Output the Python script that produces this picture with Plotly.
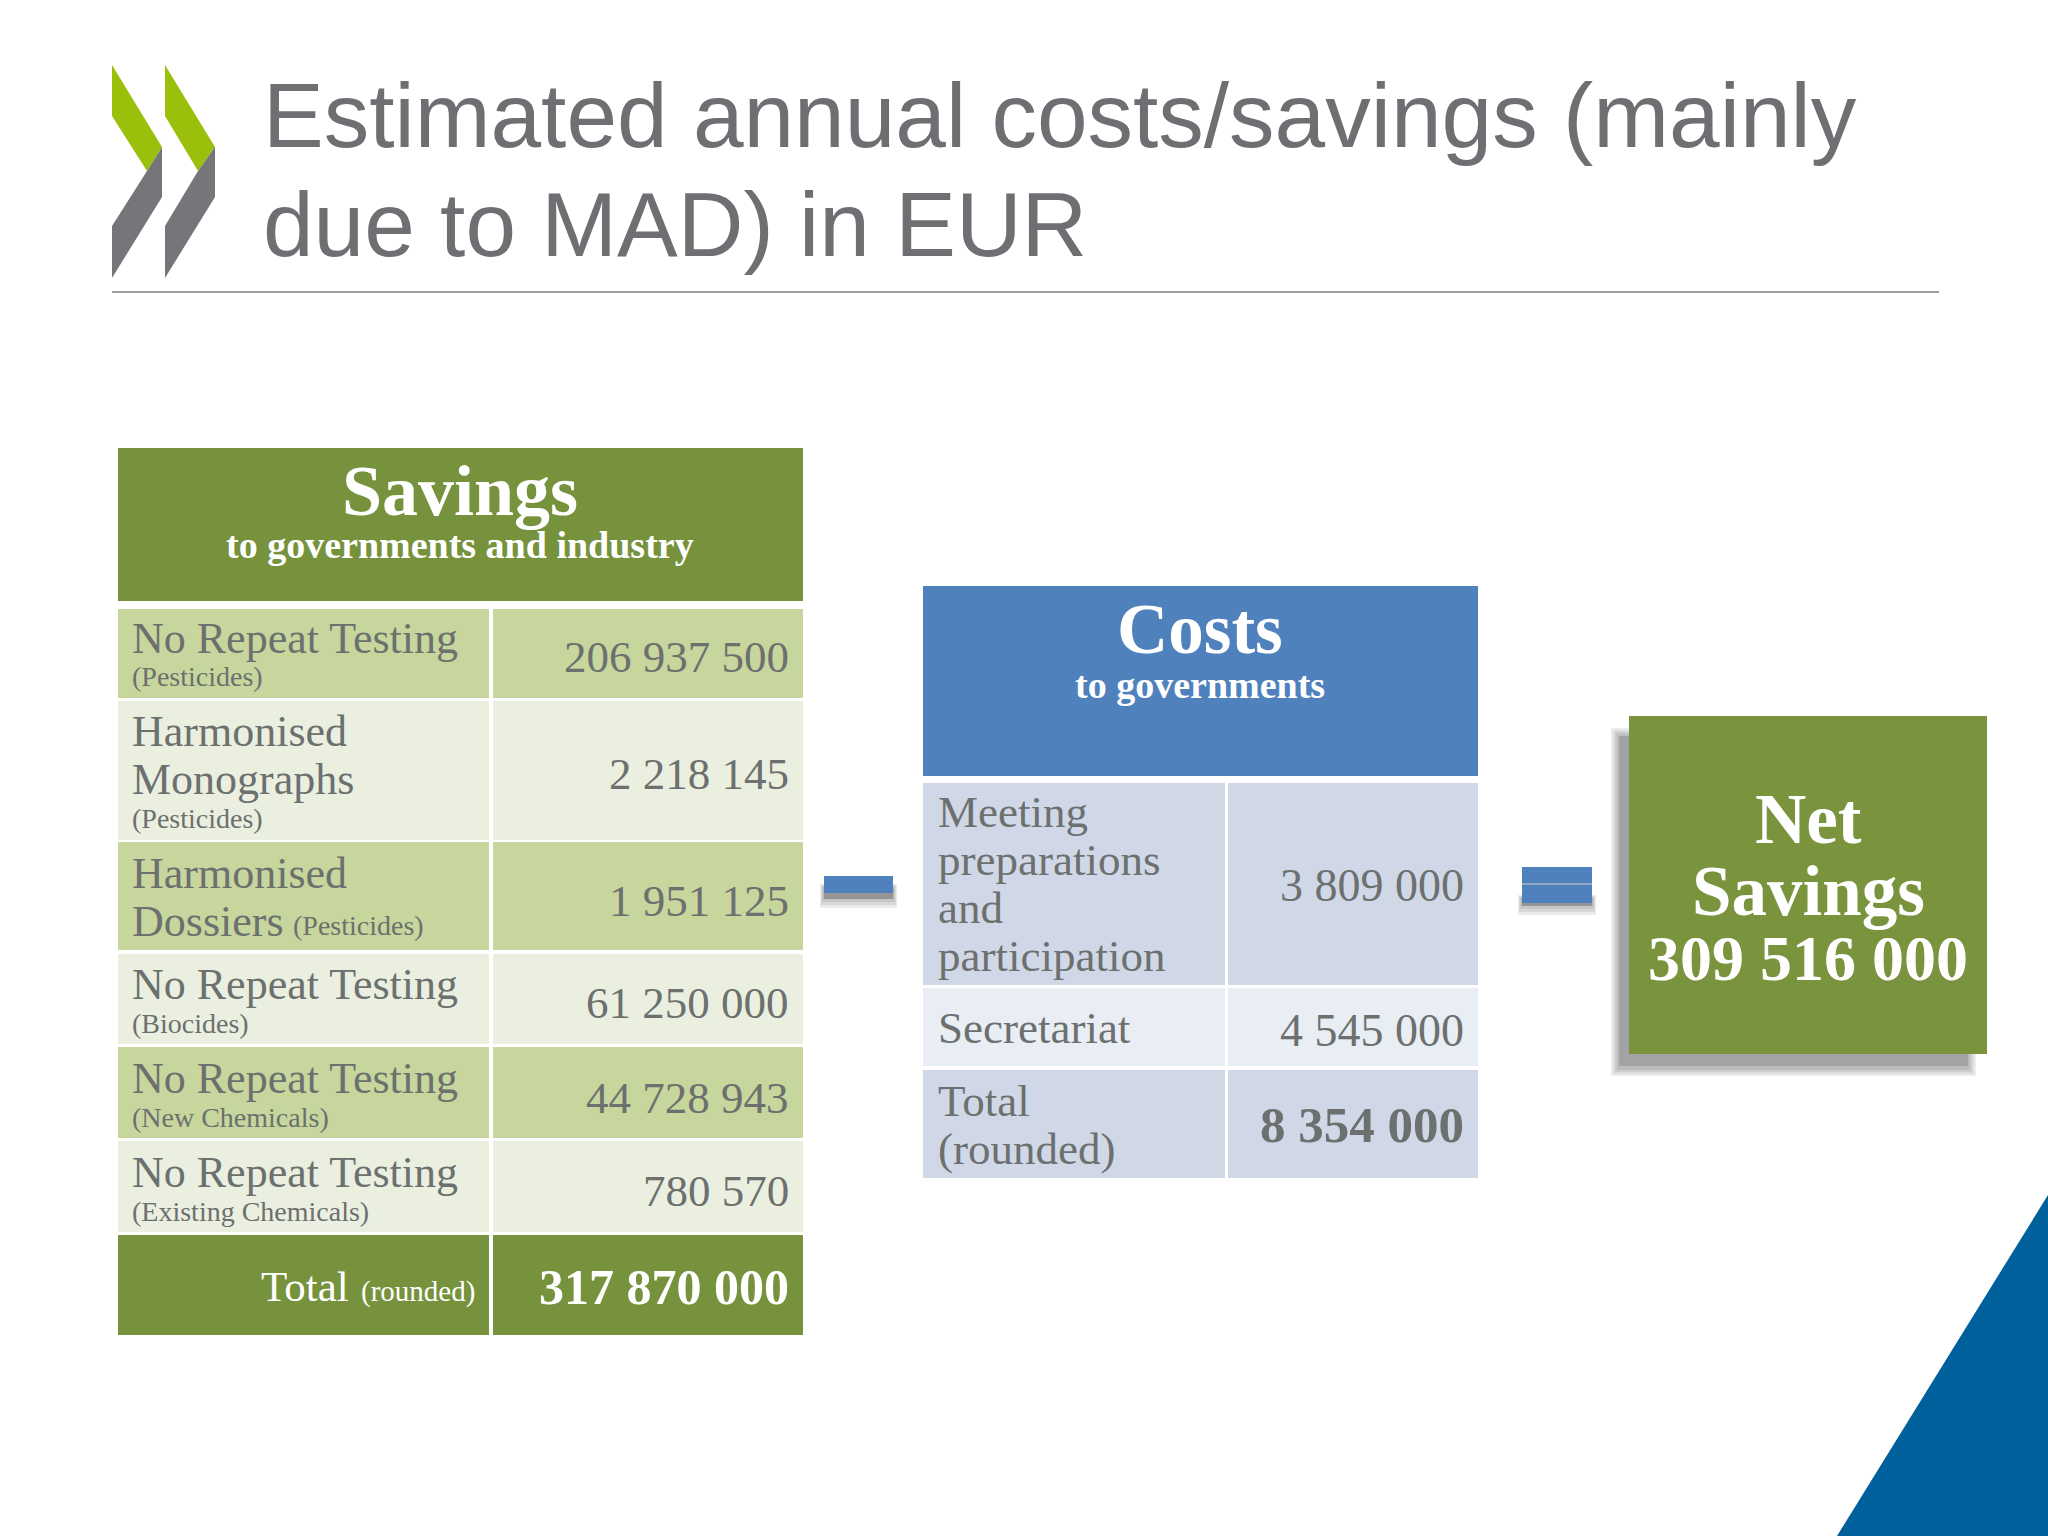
import plotly.graph_objects as go

# Tekster og tal
title_lines = ["Estimated annual costs/savings (mainly", "due to MAD) in EUR"]

savings_labels = ["No Repeat Testing", "Harmonised", "Monographs", "Harmonised", "Dossiers",
                  "No Repeat Testing", "No Repeat Testing", "No Repeat Testing"]
savings_notes = ["(Pesticides)", "(Pesticides)", "(Pesticides)", "(Biocides)", "(New Chemicals)", "(Existing Chemicals)"]
savings_values = [206937500, 2218145, 1951125, 61250000, 44728943, 780570]
savings_total = 317870000

costs_labels = ["Meeting", "preparations", "and", "participation", "Secretariat", "Total", "(rounded)"]
costs_values = [3809000, 4545000]
costs_total = 8354000
net_savings = 309516000

# Farver
GREEN = "#76923C"
GREEN_ROW = "#C6D69C"
GREEN_PALE = "#EAEFE0"
BLUE = "#4F81BD"
BLUE_ROW = "#D0D8E8"
BLUE_PALE = "#E9EDF4"
TEXT = "#6C706F"
SERIF = "Liberation Serif"


def spaced(v):
    return f"{v:,}".replace(",", " ")


fig = go.Figure()


def box(x0, y0, x1, y1, color, opacity=1):
    fig.add_shape(type="rect", x0=x0, y0=y0, x1=x1, y1=y1, fillcolor=color,
                  opacity=opacity, line_width=0, layer="below")


def poly(points, color):
    path = "M " + " L ".join(f"{x} {y}" for x, y in points) + " Z"
    fig.add_shape(type="path", path=path, fillcolor=color, line_width=0, layer="below")


def text(x, baseline, s, size, anchor="left", bold=False, color=TEXT, font=SERIF):
    # y er grundlinjen, annotation centreres saa vi trækker lidt fra
    fig.add_annotation(x=x, y=baseline - 0.3 * size, text=f"<b>{s}</b>" if bold else s,
                       xref="x", yref="y", xanchor=anchor, yanchor="middle", showarrow=False,
                       borderpad=0, font=dict(family=font, size=size, color=color))


def bar_shadow(x0, x1, y0, y1):
    # lille blød skygge under tegnene
    for i in range(4):
        box(x0 - 4 + i, y0 + i, x1 + 4 - i, y1 - 3 * i, "#000000", 0.08)
    box(x0, y0, x1, y1 - 9, "#555555", 0.35)


# Logo
for dx, notch in [(0, 147), (53, 198)]:
    poly([(112 + dx, 65), (162 + dx, 147), (notch, 171), (112 + dx, 116)], "#9AC00C")
    poly([(162 + dx, 147), (162 + dx, 197), (112 + dx, 278), (112 + dx, 226), (notch, 171)], "#757679")

# Titel
text(262, 143, title_lines[0], 91, font="Liberation Sans", color="#6E6F72")
text(262, 252, title_lines[1], 91, font="Liberation Sans", color="#6E6F72")
fig.add_shape(type="line", x0=112, x1=1939, y0=292, y1=292, line=dict(color="#7F7F7F", width=1.5))

# Hjørnet nederst til højre
poly([(2048, 1195), (2048, 1536), (1837, 1536)], "#00609B")

# Savings tabel
box(118, 448, 803, 601, GREEN)
text(460, 513, "Savings", 72, "center", True, "white")
text(460, 556, "to governments and industry", 38, "center", True, "white")

sav_rows = [(609, 698), (701, 840), (842, 950), (954, 1044), (1047, 1138), (1141, 1232)]
for i, (y0, y1) in enumerate(sav_rows):
    col = GREEN_ROW if i % 2 == 0 else GREEN_PALE
    box(118, y0, 489, y1, col)
    box(493, y0, 803, y1, col)
box(118, 1235, 489, 1335, GREEN)
box(493, 1235, 803, 1335, GREEN)

L = 131
label_y = [652, 745, 793, 887, 935, 998, 1092, 1186]
for s, y in zip(savings_labels, label_y):
    text(L, y, s, 44)
note_pos = [(L, 685), (L, 827), (292, 934), (L, 1032), (L, 1126), (L, 1220)]
for s, (x, y) in zip(savings_notes, note_pos):
    text(x, y, s, 28)
value_y = [670, 787, 914, 1016, 1111, 1204]
for v, y in zip(savings_values, value_y):
    text(790, y, spaced(v), 45, "right")
text(350, 1299, "Total", 43, "right", color="white")
text(476, 1300, "(rounded)", 29, "right", color="white")
text(790, 1302, spaced(savings_total), 50, "right", True, "white")

# Minus
bar_shadow(824, 893, 884, 908)
box(824, 876, 893, 893, BLUE)

# Costs tabel
box(923, 586, 1478, 776, BLUE)
text(1200, 650, "Costs", 71, "center", True, "white")
text(1200, 696, "to governments", 38, "center", True, "white")

for (y0, y1), col in zip([(783, 985), (988, 1066), (1070, 1178)], [BLUE_ROW, BLUE_PALE, BLUE_ROW]):
    box(923, y0, 1225, y1, col)
    box(1228, y0, 1478, y1, col)

cost_label_y = [825, 873, 921, 969, 1041, 1114, 1162]
for s, y in zip(costs_labels, cost_label_y):
    text(937, y, s, 45)
for v, y in zip(costs_values, [899, 1044]):
    text(1465, y, spaced(v), 46, "right")
text(1465, 1140, spaced(costs_total), 51, "right", True)

# Lig med
bar_shadow(1522, 1592, 895, 915)
box(1522, 867, 1592, 903, BLUE)
fig.add_shape(type="line", x0=1522, x1=1592, y0=884, y1=884, line=dict(color="#A9B4C4", width=1.5))

# Net savings, skyggen i lag
for i in range(4):
    box(1611 + i * 2, 728 + i * 2, 1976 - i * 2, 1076 - i * 2, "#000000", 0.07)
box(1619, 736, 1968, 1066, "#3C3C46", 0.2)
box(1629, 716, 1987, 1054, "#7A943E")
text(1808, 840, "Net", 71, "center", True, "white")
text(1808, 912, "Savings", 71, "center", True, "white")
text(1808, 978, spaced(net_savings), 64, "center", True, "white")

fig.update_xaxes(range=[0, 2048], visible=False)
fig.update_yaxes(range=[1536, 0], visible=False)
fig.update_layout(width=2048, height=1536, margin=dict(l=0, r=0, t=0, b=0),
                  plot_bgcolor="white", paper_bgcolor="white", showlegend=False)

fig.write_html("out.html", config={"displayModeBar": False},
               post_script="document.body.style.margin='0'")
